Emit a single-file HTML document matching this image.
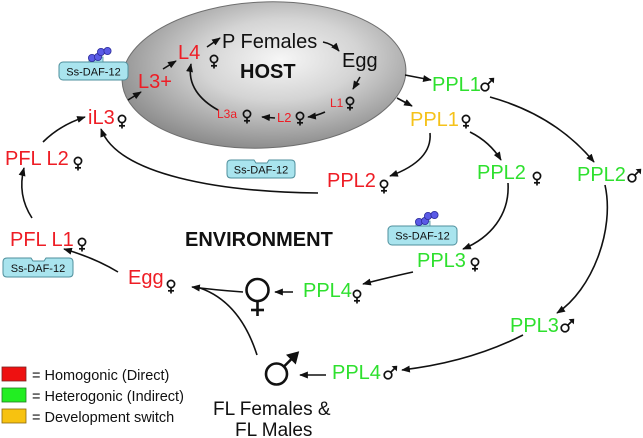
<!DOCTYPE html>
<html><head><meta charset="utf-8"><style>
html,body{margin:0;padding:0;background:#fff;}
svg{display:block;}
text{font-family:"Liberation Sans",Arial,sans-serif;}
.r{fill:#ee1d25;}
.g{fill:#2ee02e;}
.y{fill:#f5c21a;}
.k{fill:#111;}
.ln{fill:none;stroke:#111;stroke-width:1.6;marker-end:url(#ah);}
.box{fill:#a9e4ee;stroke:#4f8f9c;stroke-width:1;}
.lig{fill:#5a5ae6;stroke:#2c2c9a;stroke-width:0.8;}
</style></head><body>
<svg width="643" height="438" viewBox="0 0 643 438" xmlns="http://www.w3.org/2000/svg">
<defs>
  <radialGradient id="eg" cx="56%" cy="40%" r="62%">
    <stop offset="0" stop-color="#f6f6f6"/>
    <stop offset="0.45" stop-color="#d4d4d4"/>
    <stop offset="1" stop-color="#8a8a8a"/>
  </radialGradient>
  <marker id="ah" viewBox="0 0 10 8" refX="9" refY="4" markerWidth="9" markerHeight="7" markerUnits="userSpaceOnUse" orient="auto">
    <path d="M0,0 L10,4 L0,8 z" fill="#111"/>
  </marker>
  <g id="fe" fill="none" stroke="#111" stroke-width="1.7">
    <circle cx="0" cy="0" r="3.6"/>
    <line x1="0" y1="3.6" x2="0" y2="9.5"/>
    <line x1="-3" y1="6.8" x2="3" y2="6.8"/>
  </g>
  <g id="ma" stroke="#111" stroke-width="1.7">
    <circle cx="0" cy="0" r="3.8" fill="none"/>
    <line x1="2.7" y1="-2.7" x2="6.5" y2="-6.5"/>
    <path d="M4.5,-8.5 L8.8,-8.8 L8.5,-4.5 z" fill="#111" stroke-width="0.8"/>
  </g>
</defs>

<!-- Host ellipse -->
<ellipse cx="264" cy="75" rx="142" ry="73" transform="rotate(-2.5 264 75)" fill="url(#eg)" stroke="#6e6e6e" stroke-width="1"/>

<!-- Host texts -->
<text x="178" y="59" font-size="20" class="r">L4</text>
<text x="222" y="48" font-size="20" class="k">P Females</text>
<text x="240" y="78" font-size="20" font-weight="bold" class="k">HOST</text>
<text x="342" y="67" font-size="20" class="k">Egg</text>
<text x="138" y="88" font-size="20" class="r">L3+</text>
<text x="330" y="107" font-size="12" class="r">L1</text>
<text x="277" y="122" font-size="13" class="r">L2</text>
<text x="217" y="118" font-size="12" class="r">L3a</text>

<!-- Outside texts -->
<text x="88" y="124" font-size="20" class="r">iL3</text>
<text x="5" y="165" font-size="20" class="r">PFL L2</text>
<text x="10" y="246" font-size="20" class="r">PFL L1</text>
<text x="128" y="284" font-size="20" class="r">Egg</text>
<text x="185" y="246" font-size="20" font-weight="bold" class="k">ENVIRONMENT</text>
<text x="432" y="91" font-size="20" class="g">PPL1</text>
<text x="410" y="126" font-size="20" class="y">PPL1</text>
<text x="327" y="187" font-size="20" class="r">PPL2</text>
<text x="477" y="179" font-size="20" class="g">PPL2</text>
<text x="577" y="181" font-size="20" class="g">PPL2</text>
<text x="417" y="267" font-size="20" class="g">PPL3</text>
<text x="303" y="297" font-size="20" class="g">PPL4</text>
<text x="510" y="332" font-size="20" class="g">PPL3</text>
<text x="332" y="379" font-size="20" class="g">PPL4</text>
<text x="213" y="415" font-size="19" class="k">FL Females &amp;</text>
<text x="235" y="436" font-size="19" class="k">FL Males</text>

<!-- small sex symbols -->
<use href="#fe" x="214" y="59"/>
<use href="#fe" x="350" y="101"/>
<use href="#fe" x="300" y="116"/>
<use href="#fe" x="247" y="114"/>
<use href="#fe" x="122" y="119"/>
<use href="#fe" x="78" y="161"/>
<use href="#fe" x="82" y="242"/>
<use href="#fe" x="171" y="284"/>
<use href="#fe" x="384" y="184"/>
<use href="#fe" x="466" y="119"/>
<use href="#fe" x="537" y="176"/>
<use href="#fe" x="475" y="262"/>
<use href="#fe" x="357" y="294"/>
<use href="#ma" x="485" y="87"/>
<use href="#ma" x="632" y="178"/>
<use href="#ma" x="565" y="328"/>
<use href="#ma" x="388" y="375"/>

<!-- big female -->
<g fill="none" stroke="#111" stroke-width="2.6">
  <circle cx="257.5" cy="290" r="11"/>
  <line x1="257.5" y1="301" x2="257.5" y2="316"/>
  <line x1="251" y1="310" x2="264" y2="310"/>
</g>
<!-- big male -->
<g stroke="#111" stroke-width="2.6">
  <circle cx="276.5" cy="374" r="10.5" fill="none"/>
  <line x1="284" y1="366.5" x2="292" y2="358.5"/>
  <path d="M287,355 L298.5,352 L295.5,363.5 z" fill="#111" stroke-width="1"/>
</g>

<!-- arrows inside host -->
<path class="ln" d="M128,100 L141,92"/>
<path class="ln" d="M163,69 L176,61"/>
<path class="ln" d="M207,47 L220,38"/>
<path class="ln" d="M323,42 Q333,44 339,51"/>
<path class="ln" d="M360,77 L353,89"/>
<path class="ln" d="M325,112 Q316,116 308,117"/>
<path class="ln" d="M275,118 L262,117"/>
<path class="ln" d="M218,110 C200,100 187,85 191,64"/>

<!-- arrows outside -->
<path class="ln" d="M405,75 L431,80"/>
<path class="ln" d="M397,98 L412,106"/>
<path class="ln" d="M430,133 C432,155 412,168 390,176"/>
<path class="ln" d="M470,132 Q490,142 501,160"/>
<path class="ln" d="M490,97 Q555,115 594,162"/>
<path class="ln" d="M508,183 C510,215 490,238 463,249"/>
<path class="ln" d="M605,185 C615,230 592,290 557,313"/>
<path class="ln" d="M413,272 Q390,277 363,284"/>
<path class="ln" d="M523,335 Q470,362 402,370"/>
<path class="ln" d="M326,375 L300,375"/>
<path class="ln" d="M293,292 L275,292"/>
<path class="ln" d="M243,292 Q215,290 192,287"/>
<path d="M257,355 Q240,302 200,288" fill="none" stroke="#111" stroke-width="1.6"/>
<path class="ln" d="M118,272 Q95,258 64,249"/>
<path class="ln" d="M32,218 Q17,195 24,168"/>
<path class="ln" d="M43,142 Q60,125 85,117"/>
<path class="ln" d="M318,193 C220,192 118,175 101,129"/>

<!-- Ss-DAF-12 boxes -->
<!-- A: with ligand -->
<g>
  <rect class="box" x="59" y="62" width="69" height="18" rx="4"/>
  <rect x="89" y="57" width="14" height="5" fill="#a9e4ee" stroke="#4f8f9c" stroke-width="0.8"/>
  <circle class="lig" cx="92" cy="58" r="3.6"/>
  <circle class="lig" cx="98" cy="57" r="3.6"/>
  <circle class="lig" cx="101" cy="52" r="3.6"/>
  <circle class="lig" cx="107.5" cy="51" r="3.6"/>
  <text x="93.5" y="75.5" font-size="11" text-anchor="middle" class="k">Ss-DAF-12</text>
</g>
<!-- B: empty notch -->
<g>
  <path class="box" d="M231,160 L254,160 L256,163 L267,163 L269,160 L291,160 Q295,160 295,164 L295,174 Q295,178 291,178 L231,178 Q227,178 227,174 L227,164 Q227,160 231,160 z"/>
  <text x="261" y="173.5" font-size="11" text-anchor="middle" class="k">Ss-DAF-12</text>
</g>
<!-- C: empty notch -->
<g>
  <path class="box" d="M7,258 L31,258 L33,261 L44,261 L46,258 L69,258 Q73,258 73,262 L73,273 Q73,277 69,277 L7,277 Q3,277 3,273 L3,262 Q3,258 7,258 z"/>
  <text x="38" y="272" font-size="11" text-anchor="middle" class="k">Ss-DAF-12</text>
</g>
<!-- D: with ligand -->
<g>
  <rect class="box" x="388" y="226" width="69" height="19" rx="4"/>
  <rect x="416" y="221" width="14" height="5" fill="#a9e4ee" stroke="#4f8f9c" stroke-width="0.8"/>
  <circle class="lig" cx="419" cy="222" r="3.6"/>
  <circle class="lig" cx="425" cy="221" r="3.6"/>
  <circle class="lig" cx="428" cy="216" r="3.6"/>
  <circle class="lig" cx="434.5" cy="215" r="3.6"/>
  <text x="422.5" y="239.5" font-size="11" text-anchor="middle" class="k">Ss-DAF-12</text>
</g>

<!-- Legend -->
<rect x="2" y="367" width="24" height="14" fill="#ee1111" stroke="#7a2222" stroke-width="0.8"/>
<rect x="2" y="388" width="24" height="14" fill="#22ee22" stroke="#227a22" stroke-width="0.8"/>
<rect x="2" y="409" width="24" height="14" fill="#f7c210" stroke="#8a6a10" stroke-width="0.8"/>
<text x="32" y="380" font-size="14.5" class="k">= Homogonic (Direct)</text>
<text x="32" y="401" font-size="14.5" class="k">= Heterogonic (Indirect)</text>
<text x="32" y="422" font-size="14.5" class="k">= Development switch</text>
</svg>
</body></html>
